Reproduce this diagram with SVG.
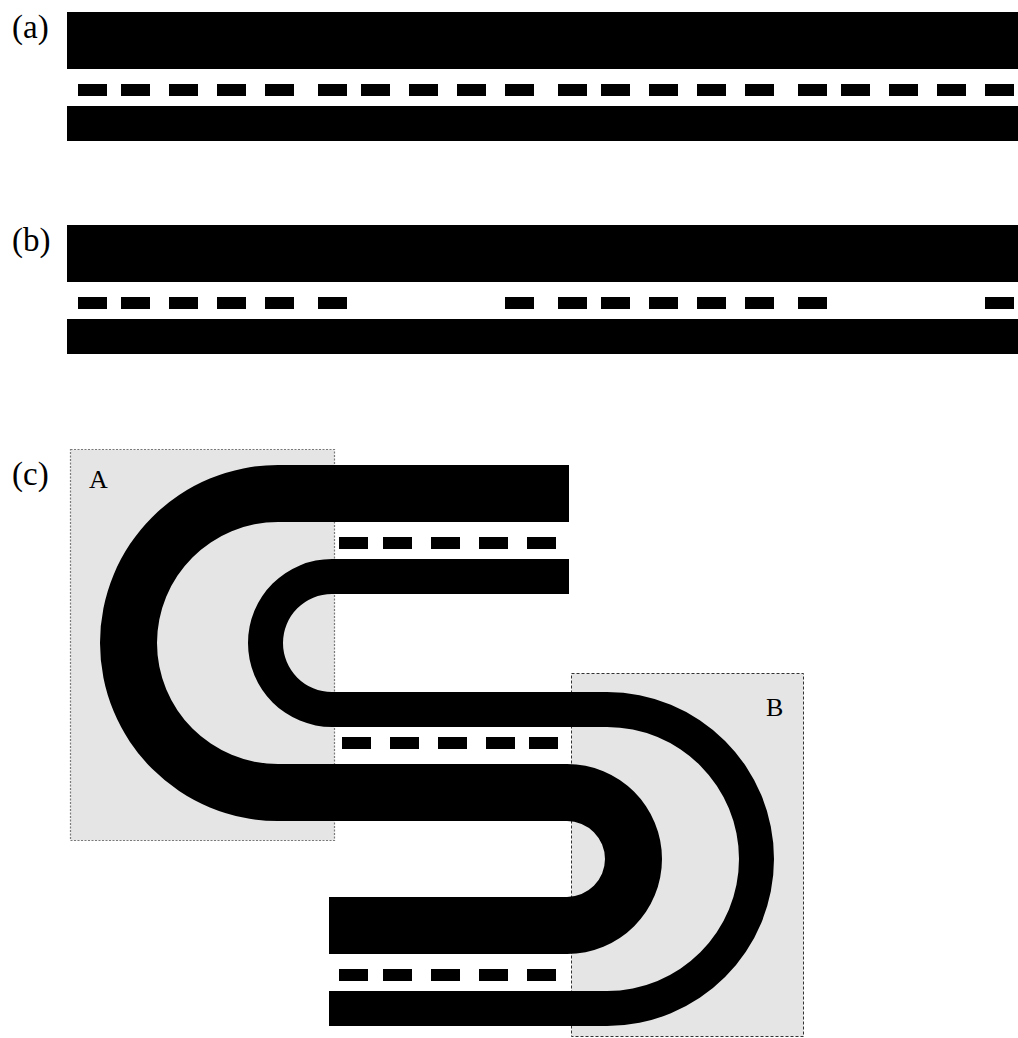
<svg xmlns="http://www.w3.org/2000/svg" width="1018" height="1038" viewBox="0 0 1018 1038">
  <style>
    .road { fill: #000; }
    .dash { fill: #000; }
    .lbl { font-family: "Liberation Serif", "Times New Roman", serif; font-size: 33px; fill: #000; }
    .zone-lbl { font-family: "Liberation Serif", "Times New Roman", serif; font-size: 26px; fill: #000; }
    .zoneA { fill: #e5e5e5; stroke: #7a7a7a; stroke-width: 1.2; stroke-dasharray: 2 1.5; }
    .zoneB { fill: #e5e5e5; stroke: #333; stroke-width: 1; stroke-dasharray: 3 2; }
  </style>
  <defs>
    <rect id="d" width="29" height="12"/>
  </defs>
  <rect width="1018" height="1038" fill="#fff"/>

  <g id="panel-a">
    <text class="lbl" x="12" y="38">(a)</text>
    <rect class="road" x="67" y="12" width="951" height="57"/>
    <rect class="road" x="67" y="106" width="951" height="35"/>
    <g class="dash">
      <use href="#d" x="78" y="84"/><use href="#d" x="121" y="84"/><use href="#d" x="169" y="84"/><use href="#d" x="217" y="84"/><use href="#d" x="265" y="84"/>
      <use href="#d" x="318" y="84"/><use href="#d" x="361" y="84"/><use href="#d" x="409" y="84"/><use href="#d" x="457" y="84"/><use href="#d" x="505" y="84"/>
      <use href="#d" x="558" y="84"/><use href="#d" x="601" y="84"/><use href="#d" x="649" y="84"/><use href="#d" x="697" y="84"/><use href="#d" x="745" y="84"/>
      <use href="#d" x="798" y="84"/><use href="#d" x="841" y="84"/><use href="#d" x="889" y="84"/><use href="#d" x="937" y="84"/><use href="#d" x="985" y="84"/>
    </g>
  </g>

  <g id="panel-b">
    <text class="lbl" x="12" y="251">(b)</text>
    <rect class="road" x="67" y="225" width="951" height="57"/>
    <rect class="road" x="67" y="319" width="951" height="35"/>
    <g class="dash">
      <use href="#d" x="78" y="297"/><use href="#d" x="121" y="297"/><use href="#d" x="169" y="297"/><use href="#d" x="217" y="297"/><use href="#d" x="265" y="297"/>
      <use href="#d" x="318" y="297"/>
      <use href="#d" x="505" y="297"/>
      <use href="#d" x="558" y="297"/><use href="#d" x="601" y="297"/><use href="#d" x="649" y="297"/><use href="#d" x="697" y="297"/><use href="#d" x="745" y="297"/>
      <use href="#d" x="798" y="297"/>
      <use href="#d" x="985" y="297"/>
    </g>
  </g>

  <g id="panel-c">
    <text class="lbl" x="12" y="485">(c)</text>
    <g id="zone-A">
      <rect class="zoneA" x="70.5" y="449.5" width="264" height="391"/>
      <text class="zone-lbl" x="89" y="488">A</text>
    </g>
    <g id="zone-B">
      <rect class="zoneB" x="571.5" y="673.5" width="232" height="363"/>
      <text class="zone-lbl" x="766" y="716">B</text>
    </g>
    <g id="roads">
      <path id="thick-edge" class="road" d="M569,465 H278 A178,178 0 0 0 278,821 H567 A38,38 0 0 1 567,897 H329 V954 H567 A95,95 0 0 0 567,764 H278 A121,121 0 0 1 278,522 H569 Z"/>
      <path id="thin-edge" class="road" d="M569,559 H332 A84,84 0 0 0 332,727 H607 A132,132 0 0 1 607,991 H329 V1026 H607 A167,167 0 0 0 607,692 H332 A49,49 0 0 1 332,594 H569 Z"/>
    </g>
    <g class="dash">
      <use href="#d" x="339" y="537"/><use href="#d" x="383" y="537"/><use href="#d" x="431" y="537"/><use href="#d" x="479" y="537"/><use href="#d" x="527" y="537"/>
      <use href="#d" x="342" y="737"/><use href="#d" x="390" y="737"/><use href="#d" x="438" y="737"/><use href="#d" x="486" y="737"/><use href="#d" x="529" y="737"/>
      <use href="#d" x="339" y="969"/><use href="#d" x="383" y="969"/><use href="#d" x="431" y="969"/><use href="#d" x="479" y="969"/><use href="#d" x="527" y="969"/>
    </g>
  </g>
</svg>
